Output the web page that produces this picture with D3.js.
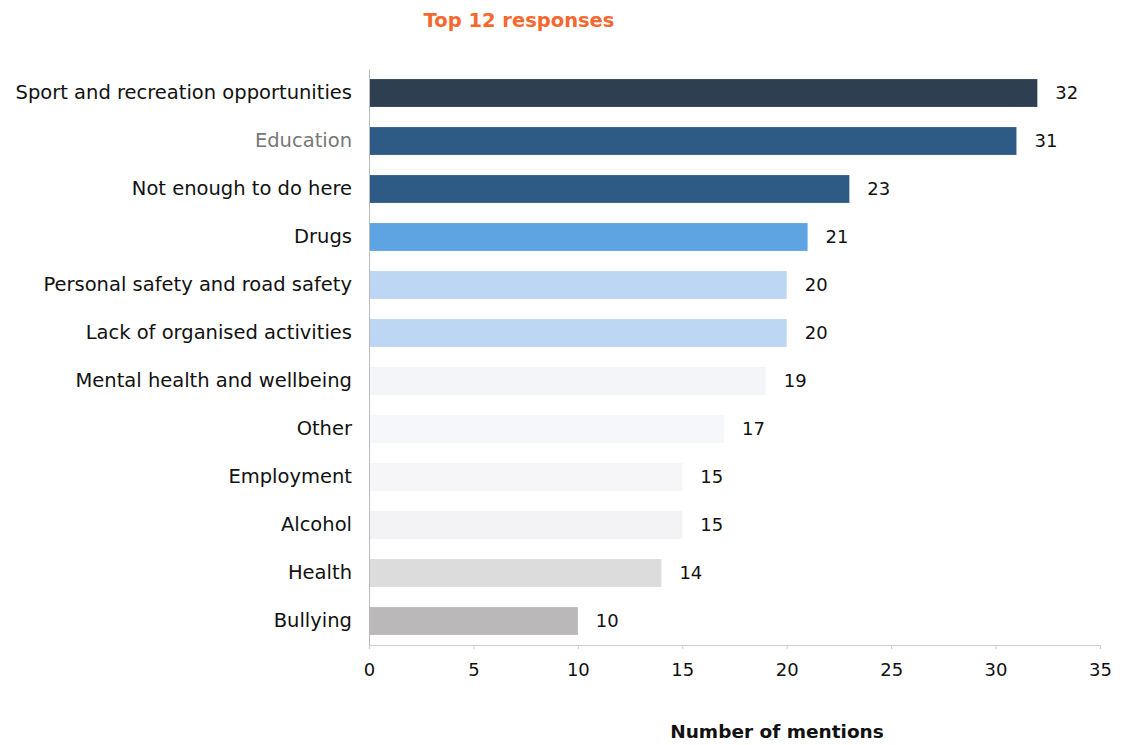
<!DOCTYPE html>
<html><head><meta charset="utf-8">
<script src="https://cdn.jsdelivr.net/npm/d3@7"></script>
<style>body{margin:0;background:#fff;}svg{display:block;}</style>
</head><body>
<svg id="chart" width="1124" height="745"></svg>
<script>
const categories = ["Sport and recreation opportunities","Education","Not enough to do here","Drugs","Personal safety and road safety","Lack of organised activities","Mental health and wellbeing","Other","Employment","Alcohol","Health","Bullying"];
const values = [32,31,23,21,20,20,19,17,15,15,14,10];
const barColors = ["#2f3f52","#2e5b85","#2e5b85","#5fa4e2","#bdd6f3","#bdd6f3","#f4f5f9","#f6f7fa","#f6f6f8","#f3f2f5","#dddcdd","#bab8b9"];
const labelColors = ["#111","#777","#111","#111","#111","#111","#111","#111","#111","#111","#111","#111"];
const xTicks = [0,5,10,15,20,25,30,35];
const title = "Top 12 responses";
const xTitle = "Number of mentions";

const svg = d3.select("#chart");
const font = "'DejaVu Sans', sans-serif";
const x = d3.scaleLinear().domain([0,35]).range([369,1100]);
const y = d3.scaleBand().domain(categories).range([69,645]).paddingInner(0.42).paddingOuter(0.21);

svg.append("text").attr("x",519).attr("y",27).attr("text-anchor","middle")
  .attr("font-family",font).attr("font-weight","bold").attr("font-size",19.5)
  .attr("fill","#f5682f").text(title);

// bars
svg.selectAll("rect.bar").data(categories).enter().append("rect")
  .attr("class","bar")
  .attr("x",x(0)).attr("y",d=>y(d))
  .attr("width",(d,i)=>x(values[i])-x(0)).attr("height",y.bandwidth())
  .attr("fill",(d,i)=>barColors[i]);

// y axis
const yAxis = d3.axisLeft(y).tickSize(0).tickPadding(17);
const gy = svg.append("g").attr("transform",`translate(${x(0)},0)`).call(yAxis);
gy.select(".domain").attr("stroke","#bbb").attr("stroke-width",1);
gy.selectAll("text").attr("font-family",font).attr("font-size",19.5)
  .attr("fill",(d,i)=>labelColors[i]);

// x axis
const xAxis = d3.axisBottom(x).tickValues(xTicks).tickSize(4).tickPadding(14);
const gx = svg.append("g").attr("transform","translate(0,645)").call(xAxis);
gx.select(".domain").attr("stroke","#d4c8d8").attr("stroke-width",1.2);
gx.selectAll(".tick line").attr("stroke","#d4c8d8");
gx.selectAll("text").attr("font-family",font).attr("font-size",18).attr("fill","#111");

// value labels
svg.selectAll("text.val").data(categories).enter().append("text")
  .attr("class","val")
  .attr("x",(d,i)=>x(values[i])+18)
  .attr("y",d=>y(d)+y.bandwidth()/2)
  .attr("dy","0.35em")
  .attr("font-family",font).attr("font-size",18).attr("fill","#111")
  .text((d,i)=>values[i]);

svg.append("text").attr("x",777).attr("y",738).attr("text-anchor","middle")
  .attr("font-family",font).attr("font-weight","bold").attr("font-size",18.5)
  .attr("fill","#111").text(xTitle);
</script>
</body></html>
